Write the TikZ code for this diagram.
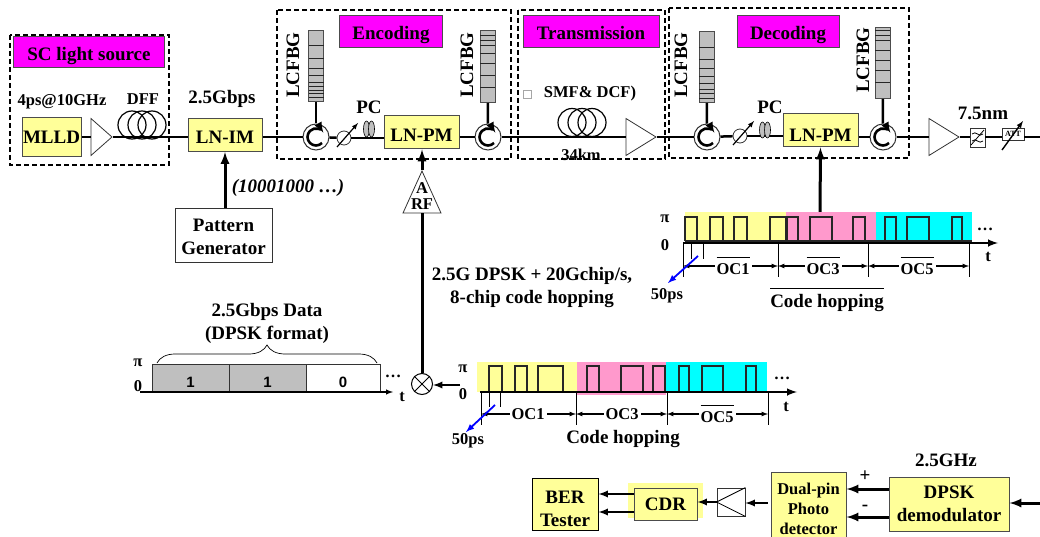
\documentclass[tikz,border=0pt]{standalone}
\usepackage{fontspec}
\setmainfont{Liberation Serif}
\newfontfamily\bitfont{Liberation Sans}
\usepackage{tikz}
\usetikzlibrary{shapes.geometric,decorations.pathreplacing}
\definecolor{lightyellow}{HTML}{FFFF99}
\definecolor{hotpink}{HTML}{FF99CC}
\definecolor{tagmagenta}{HTML}{FF00FF}
\definecolor{traincyan}{HTML}{00FFFF}
\definecolor{fbggray}{HTML}{BFBFBF}
\tikzset{
	biglabel/.style={font=\fontsize{19}{23}\selectfont\bfseries,align=center,inner sep=0pt},
	smalllabel/.style={font=\fontsize{16.5}{20.5}\selectfont\bfseries,align=center,inner sep=0pt},
	yellowbox/.style={draw=black!70,line width=1pt,fill=lightyellow,font=\fontsize{19}{23}\selectfont\bfseries,align=center,inner sep=0pt},
	tagbox/.style={draw=black!70,line width=0.8pt,fill=tagmagenta,font=\fontsize{19}{23}\selectfont\bfseries,inner sep=0pt,text height=17pt,text depth=0pt},
	bitbox/.style={draw=black!80,line width=0.8pt,minimum height=27pt,inner sep=0pt,font=\fontsize{15}{15}\selectfont\bfseries\bitfont,text height=19pt,text depth=0pt},
	groupbox/.style={draw,line width=1.5pt,dash pattern=on 5pt off 3pt},
	fibre/.style={line width=2.5pt},
	bigarrow/.style={line width=3pt,-latex},
	midarrow/.style={line width=2.2pt,-latex},
	dimarrow/.style={line width=1.2pt,latex-latex},
	ampbox/.style={draw=black!80,line width=0.8pt,fill=white,isosceles triangle,isosceles triangle stretches,inner sep=0pt,anchor=apex}
}
% a group of fibre loops
\newcommand{\fibrecoil}[2]{
	\foreach \i in {-10,0,10} {
		\draw[line width=1.2pt] (#1+\i,#2) circle [radius=14];
	}
}
% grating with its rungs
\newcommand{\lcfbg}[5]{
	\node[draw=black!70,line width=1pt,fill=fbggray,minimum width=15pt,minimum height=#4pt-#3pt,inner sep=0pt,anchor=north] (#1) at (#2,#3) {};
	\foreach \y in {#5} {
		\draw[line width=0.7pt,black!85] (#2-7.5,\y) -- (#2+7.5,\y);
	}
}
\newcommand{\circulator}[3]{
	\node[circle,draw=black!80,line width=1pt,fill=white,minimum size=26pt,inner sep=0pt] (#1) at (#2,#3) {};
	\draw[line width=2.6pt,-latex] (#2+6,#3+6) arc [start angle=45,end angle=330,radius=8.5];
}
\newcommand{\phaseshift}[3]{
	\node[circle,draw=black!80,line width=0.8pt,fill=white,minimum size=14pt,inner sep=0pt] (#1) at (#2,#3) {};
	\draw[line width=1.2pt,-latex] (#2-7,#3+9) -- (#2+14,#3-15);
}
\newcommand{\polcontrol}[2]{
	\foreach \i in {-2.5,2.5} {
		\draw[fill=fbggray,line width=0.6pt] (#1+\i,#2) ellipse [x radius=3,y radius=8];
	}
}
\newcommand{\pulses}[3]{
	\foreach \a/\b in {#3} {
		\draw[line width=1.1pt,black!85] (\a,#2) -- (\a,#1) -- (\b,#1) -- (\b,#2);
	}
}
\newcommand{\spanarrow}[6]{
	\coordinate (#1l) at (#2,#4);
	\coordinate (#1r) at (#3,#4);
	\draw[dimarrow] (#1l) -- (#1r);
	\node[smalllabel,fill=white,inner ysep=1pt,inner xsep=2pt] (#1) at (#5,#4) {#6};
}
\newcommand{\barred}[1]{\vbox{\hrule height 1pt\kern 5.5pt\hbox{#1}}}

\begin{document}
\begin{tikzpicture}[x=1pt,y=-1pt]
	\useasboundingbox (0,0) rectangle (1040,537);

	% group frames and titles
	\draw[groupbox] (10,35) rectangle (169,165);
	\draw[groupbox] (277,10) rectangle (511,159);
	\draw[groupbox] (518,10) rectangle (665,159);
	\draw[groupbox] (669,8) rectangle (909,158);
	\node[tagbox,minimum width=151pt,minimum height=31pt] (tagsc) at (89,52) {SC light source};
	\node[tagbox,minimum width=103pt,minimum height=32pt] (tagenc) at (391,31.5) {Encoding};
	\node[tagbox,minimum width=136pt,minimum height=32pt] (tagtrans) at (591,31.5) {Transmission};
	\node[tagbox,minimum width=102pt,minimum height=32pt] (tagdec) at (788,31.5) {Decoding};

	% top row
	\node[yellowbox,minimum width=59pt,minimum height=39pt] (mlld) at (51.5,137) {MLLD};
	\node[ampbox,minimum height=21pt,minimum width=37pt] (ampa) at (113,137) {};
	\node[yellowbox,minimum width=74pt,minimum height=33pt,text height=16.5pt] (lnim) at (225,135) {LN-IM};
	\node[yellowbox,minimum width=75pt,minimum height=33pt,text height=19pt] (pmenc) at (421.5,132.5) {LN-PM};
	\node[yellowbox,minimum width=75pt,minimum height=33pt,text height=21.5pt] (pmdec) at (820.5,130.5) {LN-PM};
	\node[ampbox,minimum height=30pt,minimum width=37pt] (ampb) at (657,137) {};
	\node[ampbox,minimum height=30pt,minimum width=37pt] (ampc) at (960,137) {};
	\node[draw=black!80,line width=0.8pt,fill=white,minimum width=15pt,minimum height=19pt,inner sep=0pt] (filt) at (977.5,137.5) {};
	\node[draw=black!80,line width=0.8pt,fill=white,minimum width=22pt,minimum height=12pt,inner sep=0pt,font=\fontsize{8}{8}\selectfont\bfseries] (att) at (1013,134) {ATT};
	\coordinate (lineend) at (1040,137);
	\circulator{circa}{316}{137}
	\circulator{circb}{488}{137}
	\circulator{circc}{707}{137}
	\circulator{circd}{883}{137}
	\phaseshift{phasea}{344}{138}
	\phaseshift{phaseb}{740}{136}

	\draw[fibre] (mlld) -- (mlld -| ampa.lower side);
	\draw[fibre] (ampa.apex) -- (ampa.apex -| lnim.west);
	\draw[fibre] (circa -| lnim.east) -- (circa);
	\draw[fibre] (circa) -- (phasea);
	\draw[fibre] (phasea) -- (phasea -| pmenc.west);
	\draw[fibre] (circb -| pmenc.east) -- (circb);
	\draw[fibre] (circb) -- (ampb.lower side);
	\draw[fibre] (ampb.apex) -- (circc);
	\draw[fibre] (circc) -- (phaseb);
	\draw[fibre] (phaseb) -- (phaseb -| pmdec.west);
	\draw[fibre] (circd -| pmdec.east) -- (circd);
	\draw[fibre] (circd) -- (ampc.lower side);
	\draw[fibre] (ampc.apex) -- (filt.west |- ampc.apex);
	\draw[fibre] (filt.east |- ampc.apex) -- (att.west |- ampc.apex);
	\draw[fibre] (att.east |- ampc.apex) -- (lineend);

	\polcontrol{369}{129}
	\polcontrol{765}{130}
	\fibrecoil{142}{125}
	\fibrecoil{582}{122.5}

	\lcfbg{fbga}{316}{30}{101}{45,58,68,75,82,86,90,93,97}
	\lcfbg{fbgb}{487.5}{30}{102}{35,40,45,53,63,75,87}
	\lcfbg{fbgc}{706.5}{31}{102}{47,59,68,76,83,89,93,98}
	\lcfbg{fbgd}{882.5}{27}{98}{30,35,40,50,60,70,82}
	\draw[fibre] (fbga) -- (circa);
	\draw[fibre] (fbgb) -- (circb);
	\draw[fibre] (fbgc) -- (circc);
	\draw[fibre] (fbgd) -- (circd);
	\foreach \n/\x/\y in {lcfa/293/65,lcfb/467/65,lcfc/681/65,lcfd/863/60} {
		\node[biglabel,rotate=90] (\n) at (\x,\y) {LCFBG};
	}

	% band-pass and attenuator marks
	\draw[line width=0.8pt] (971,145) -- (984,130);
	\draw[line width=0.8pt] (972,134) .. controls (976,130) and (979,138) .. (983,134);
	\draw[line width=0.8pt] (972,141) .. controls (976,137) and (979,145) .. (983,141);
	\draw[line width=1.4pt,-latex] (1002,150) -- (1023,121);

	\node[smalllabel] (lblmode) at (62,102) {4ps@10GHz};
	\node[smalllabel] (lbldff) at (143,99) {DFF};
	\node[biglabel] (lblrate) at (222,99) {2.5Gbps};
	\node[biglabel] (lblpca) at (369,107) {PC};
	\node[biglabel] (lblpcb) at (770,107) {PC};
	\node[biglabel] (lblnm) at (983,113) {7.5nm};
	\node[smalllabel] (lblsmf) at (590,94) {SMF\& DCF)};
	\node[draw=black!35,line width=0.6pt,minimum size=8pt,inner sep=0pt] (lblsq) at (527,94) {};
	\node[smalllabel] (lblkm) at (581,155) {34km};

	% drive branch
	\node[draw=black!80,line width=0.8pt,fill=white,minimum width=97pt,minimum height=54pt,biglabel,inner sep=0pt] (patgen) at (223.5,235) {\rule{0pt}{17pt}Pattern\\Generator};
	\draw[bigarrow] (patgen.north -| lnim) -- (lnim.south);
	\node[biglabel,font=\fontsize{19}{23}\selectfont\bfseries\itshape] (lblseq) at (288,188) {(10001000 …)};
	\node[draw=black!80,line width=0.8pt,fill=white,isosceles triangle,isosceles triangle stretches,shape border rotate=90,minimum width=38pt,minimum height=42pt,inner sep=0pt,anchor=apex] (rfamp) at (422,170) {};
	\node[smalllabel] (lblrfa) at (422,188) {A};
	\node[smalllabel] (lblrfb) at (422,204) {RF};
	\draw[bigarrow] (rfamp.apex) -- (rfamp.apex |- pmenc.south);
	\node[circle,draw,line width=1pt,minimum size=21pt,inner sep=0pt] (mixer) at (422,384) {};
	\draw[line width=1pt] (mixer.north west) -- (mixer.south east);
	\draw[line width=1pt] (mixer.north east) -- (mixer.south west);
	\draw[line width=3pt] (mixer) -- (rfamp.lower side);
	\node[biglabel] (lblcode) at (532,288) {2.5G DPSK + 20Gchip/s,\\8-chip code hopping};
	\coordinate (mixin) at (460,385);
	\draw[midarrow] (mixin) -- (mixer.east |- mixin);

	% decoder side code train
	\coordinate (traintop) at (820,212);
	\draw[bigarrow] (traintop) -- (pmdec.south);
	\fill[lightyellow] (685,212) rectangle (786,243);
	\fill[hotpink] (786,212) rectangle (876,243);
	\fill[traincyan] (876,212) rectangle (972,243);
	\pulses{217}{241}{685/697,710/723,734/747,770/786,787/798,810/832,853/865,885/896,907/929,952/962}
	\draw[line width=1.1pt,black!85] (685,241) -- (972,241);
	\coordinate (axisa) at (683,243);
	\coordinate (axisb) at (998,243);
	\draw[line width=2.4pt,-latex] (axisa) -- (axisb);
	\foreach \x in {683,778,868,969} {
		\draw[line width=0.7pt] (\x,243) -- (\x,277);
	}
	\foreach \x in {691,703} {
		\draw[line width=0.7pt] (\x,243) -- (\x,259);
	}
	\spanarrow{ocaa}{683}{778}{266}{733}{\barred{OC1}}
	\spanarrow{ocab}{778}{868}{266}{823}{\barred{OC3}}
	\spanarrow{ocac}{868}{969}{266}{917}{\barred{OC5}}
	\node[smalllabel] (lblpia) at (665,219) {π};
	\node[smalllabel] (lblzeroa) at (665,245) {0};
	\node[smalllabel] (lblta) at (988,257) {t};
	\node[smalllabel] (lbldotsa) at (985,229) {…};
	\node[smalllabel] (lblpsa) at (667,296) {50ps};
	\draw[blue,line width=1.8pt,-latex] (698,256) -- (668,283);
	\node[biglabel] (lblhopa) at (827,300) {\barred{Code hopping}};

	% data pattern
	\node[bitbox,fill=fbggray,minimum width=77pt] (bita) at (190.5,377.5) {1};
	\node[bitbox,fill=fbggray,minimum width=77pt] (bitb) at (267.5,377.5) {1};
	\node[bitbox,fill=white,minimum width=74pt] (bitc) at (343,377.5) {0};
	\coordinate (axisc) at (140,392);
	\coordinate (axisd) at (393,392);
	\draw[line width=1.4pt,-latex] (axisc) -- (axisd);
	\draw[line width=0.7pt,decorate,decoration={brace,amplitude=18pt}] (157,363) -- (377,363);
	\node[biglabel] (lbldata) at (267,323) {2.5Gbps Data\\(DPSK format)};
	\node[smalllabel] (lblpib) at (138,363) {π};
	\node[smalllabel] (lblzerob) at (138,386) {0};
	\node[smalllabel] (lbltb) at (402,397) {t};
	\node[smalllabel] (lbldotsb) at (393,376) {…};

	% encoder side code train
	\fill[lightyellow] (477,362) rectangle (577,392);
	\fill[hotpink] (577,362) rectangle (666,395);
	\fill[traincyan] (666,362) rectangle (767,392);
	\pulses{366}{391}{489/502,515/527,538/563,587/599,621/643,653/665,679/689,702/723,746/756}
	\coordinate (axise) at (480,392);
	\coordinate (axisf) at (797,392);
	\draw[line width=2.4pt,-latex] (axise) -- (axisf);
	\foreach \x in {481,576,667,768} {
		\draw[line width=0.7pt] (\x,392) -- (\x,425);
	}
	\foreach \x in {489,500} {
		\draw[line width=0.7pt] (\x,392) -- (\x,407);
	}
	\spanarrow{ocba}{481}{576}{414}{528}{OC1}
	\spanarrow{ocbb}{576}{667}{414}{622}{OC3}
	\spanarrow{ocbc}{667}{768}{414}{717}{\barred{OC5}}
	\node[smalllabel] (lblpic) at (463,369) {π};
	\node[smalllabel] (lblzeroc) at (463,394) {0};
	\node[smalllabel] (lbltc) at (786,407) {t};
	\node[smalllabel] (lbldotsc) at (782,378) {…};
	\node[smalllabel] (lblpsb) at (468,441) {50ps};
	\draw[blue,line width=1.8pt,-latex] (495,405) -- (466,432);
	\node[biglabel] (lblhopb) at (623,439) {Code hopping};

	% receiver row
	\node[draw,line width=1pt,fill=lightyellow,minimum width=66pt,minimum height=52pt,inner sep=0pt,font=\fontsize{19}{23}\selectfont\bfseries,align=center] (ber) at (565,504) {\rule{0pt}{22pt}BER\\Tester};
	\fill[lightyellow] (628,483) rectangle (703,518);
	\node[yellowbox,minimum width=63pt,minimum height=32pt] (cdr) at (665.5,504) {CDR};
	\node[draw=black!80,line width=0.8pt,fill=white,minimum width=28pt,minimum height=28pt,inner sep=0pt] (conv) at (731,502) {};
	\draw[line width=0.8pt] (conv.north east) -- (conv.west) -- (conv.south east);
	\node[yellowbox,minimum width=75pt,minimum height=70pt,font=\fontsize{16.5}{20}\selectfont\bfseries] (pd) at (808.5,507) {\rule{0pt}{15.5pt}Dual-pin\\Photo\\detector};
	\node[yellowbox,minimum width=120pt,minimum height=54pt] (demod) at (949,504) {DPSK\\demodulator};
	\coordinate (rxin) at (1040,503);
	\node[biglabel] (lblghz) at (946,460) {2.5GHz};
	\node[biglabel] (lblplus) at (865,476) {+};
	\node[biglabel] (lblminus) at (865,508) {-};
	\draw[bigarrow] (rxin) -- (demod.east |- rxin);
	\draw[bigarrow] (demod.west |- 0,489) -- (pd.east |- 0,489);
	\draw[bigarrow] (demod.west |- 0,517) -- (pd.east |- 0,517);
	\draw[midarrow] (pd.west |- 0,503) ++(-3,0) -- (conv.east |- 0,503);
	\draw[midarrow] (conv.west) -- (cdr.east |- conv);
	\draw[midarrow] (cdr.west |- 0,494) -- (ber.east |- 0,494);
	\draw[midarrow] (cdr.west |- 0,512) -- (ber.east |- 0,512);
\end{tikzpicture}
\end{document}
